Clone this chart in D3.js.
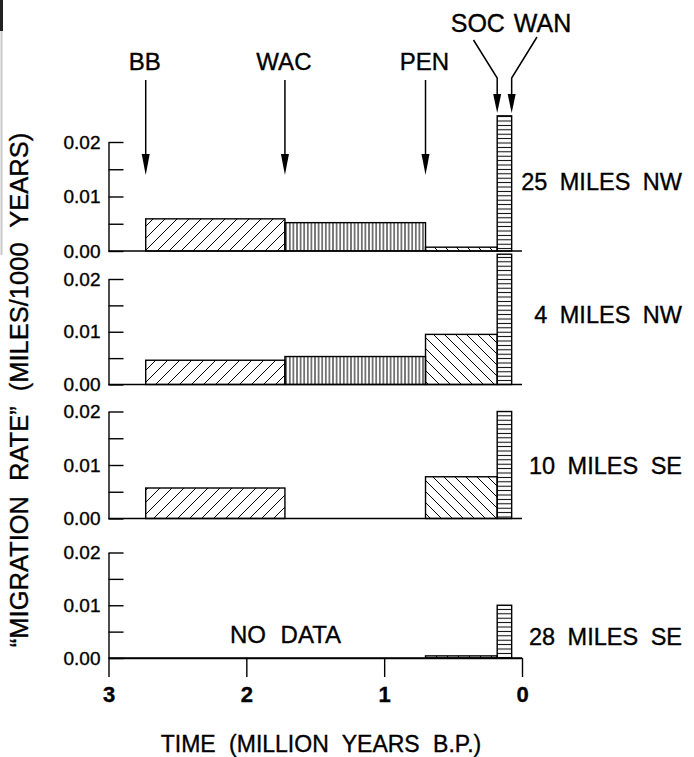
<!DOCTYPE html>
<html>
<head>
<meta charset="utf-8">
<script src="https://cdn.jsdelivr.net/npm/d3@7"></script>
<style>
  html, body { margin: 0; padding: 0; background: #fff; }
  svg { display: block; }
  text { font-family: "Liberation Sans", Arial, Helvetica, sans-serif; fill: #000; stroke: #000; stroke-width: 0.35px; }
</style>
</head>
<body>
<svg id="chart" width="694" height="757"></svg>
<script>
// Ages (million years B.P.) of the marker horizons bounding each interval
const markerNames = ["BB", "WAC", "PEN", "SOC", "WAN"];
const markerAges = [2.73, 1.72, 0.70, 0.18, 0.075];

// Sites, one panel each
const sites = ["25 MILES NW", "4 MILES NW", "10 MILES SE", "28 MILES SE"];

// Migration rate (miles / 1000 years) per interval: BB-WAC, WAC-PEN, PEN-SOC, SOC-WAN
const rate25NW = [0.0059, 0.0052, 0.0007, 0.0248];
const rate4NW  = [0.0046, 0.0053, 0.0095, 0.0247];
const rate10SE = [0.0057, null,   0.0078, 0.0200];
const rate28SE = [null,   null,   0.0004, 0.0100];
const siteRates = [rate25NW, rate4NW, rate10SE, rate28SE];

const timeTicks = [3, 2, 1, 0];
const rateTicks = [0, 0.005, 0.01, 0.015, 0.02];
const rateLabelTicks = [0, 0.01, 0.02];
const noDataLabel = "NO DATA";
const xTitle = "TIME (MILLION YEARS B.P.)";
const yTitle = "\u201CMIGRATION RATE\u201D (MILES/1000 YEARS)";

// Fill style per interval
const intervalHatch = ["hatch-fwd", "hatch-vert", "hatch-back", "hatch-horiz"];

const FONT = '"Liberation Sans", Arial, Helvetica, sans-serif';
const svg = d3.select("#chart");

// Layout of the four stacked panels (top = 0.02 level, base = 0.00 level)
const panelTop  = [142, 279, 411.5, 552.5];
const panelBase = [251, 384.5, 518.5, 658];
const labelBaseline = [190, 323, 474, 645];

const x = d3.scaleLinear().domain([3, 0]).range([108.5, 522]);

// Hatch patterns
const defs = svg.append("defs");
function pattern(id, w, h, d, sw) {
  defs.append("pattern")
    .attr("id", id)
    .attr("patternUnits", "userSpaceOnUse")
    .attr("width", w).attr("height", h)
    .append("path")
    .attr("d", d)
    .attr("stroke", "#000")
    .attr("stroke-width", sw)
    .attr("fill", "none");
}
pattern("hatch-fwd", 12, 12, "M0,12L12,0M-3,3L3,-3M9,15L15,9", 1);
pattern("hatch-back", 11, 11, "M0,0L11,11M-3,8L3,14M8,-3L14,3", 1);
pattern("hatch-vert", 3.6, 10, "M1.8,0V10", 1);
pattern("hatch-horiz", 10, 4.4, "M0,2.2H10", 1);

// Faint rule along the left edge
svg.append("line").attr("x1", 1.5).attr("x2", 1.5).attr("y1", 30).attr("y2", 255)
  .attr("stroke", "#c8c8c8").attr("stroke-width", 2);
svg.append("line").attr("x1", 1.5).attr("x2", 1.5).attr("y1", 0).attr("y2", 31)
  .attr("stroke", "#222").attr("stroke-width", 3);

const intervals = d3.range(markerAges.length - 1).map(i => ({
  i, from: markerAges[i], to: markerAges[i + 1]
}));

siteRates.forEach((rates, p) => {
  const y = d3.scaleLinear().domain([0, 0.02]).range([panelBase[p], panelTop[p]]);
  const g = svg.append("g");

  // Bars
  g.selectAll("rect.bar")
    .data(intervals.filter(d => rates[d.i] != null))
    .join("rect")
    .attr("class", "bar")
    .attr("x", d => x(d.from))
    .attr("width", d => x(d.to) - x(d.from))
    .attr("y", d => y(rates[d.i]))
    .attr("height", d => y(0) - y(rates[d.i]))
    .attr("fill", d => `url(#${intervalHatch[d.i]})`)
    .attr("stroke", "#000")
    .attr("stroke-width", 1.4);

  // Zero line
  g.append("line")
    .attr("x1", x(3)).attr("x2", x(0))
    .attr("y1", y(0)).attr("y2", y(0))
    .attr("stroke", "#000").attr("stroke-width", 1.4);

  // Rate axis, ticks pointing inward
  const ax = g.append("g")
    .attr("transform", `translate(${x(3)},0)`)
    .call(d3.axisLeft(y)
      .tickValues(rateTicks)
      .tickSizeInner(-15)
      .tickSizeOuter(0)
      .tickPadding(8)
      .tickFormat(v => rateLabelTicks.includes(v) ? d3.format(".2f")(v) : ""));
  ax.attr("font-family", FONT).attr("font-size", 19);
  ax.selectAll("path, line").attr("stroke", "#000").attr("stroke-width", 1.4);
  ax.selectAll("text").attr("fill", "#000");

  // Site label
  svg.append("text")
    .attr("x", 682).attr("y", labelBaseline[p])
    .attr("text-anchor", "end")
    .attr("font-size", 23.5)
    .attr("word-spacing", 6)
    .text(sites[p]);
});

// "No data" note in the lowest panel
svg.append("text")
  .attr("x", 285.5).attr("y", 643)
  .attr("text-anchor", "middle")
  .attr("font-size", 24)
  .attr("word-spacing", 8)
  .text(noDataLabel);

// Time axis under the lowest panel
const tx = svg.append("g")
  .attr("transform", `translate(0,${panelBase[3]})`)
  .call(d3.axisBottom(x).tickValues(timeTicks).tickSizeInner(19).tickSizeOuter(0)
    .tickPadding(9).tickFormat(d3.format("d")));
tx.attr("font-family", FONT).attr("font-size", 22).attr("font-weight", "bold");
tx.selectAll("path, line").attr("stroke", "#000").attr("stroke-width", 1.4);
tx.selectAll("text").attr("fill", "#000").attr("stroke-width", 0.2);

// Marker horizon arrows
const arrowTipY = 175;
[0, 1, 2].forEach(i => {
  const ax = x(markerAges[i]);
  svg.append("line")
    .attr("x1", ax).attr("x2", ax).attr("y1", 80).attr("y2", arrowTipY - 15)
    .attr("stroke", "#000").attr("stroke-width", 1.5);
  svg.append("path")
    .attr("d", `M${ax - 4},${arrowTipY - 21}L${ax + 4},${arrowTipY - 21}L${ax},${arrowTipY}Z`)
    .attr("fill", "#000");
  svg.append("text")
    .attr("x", ax - 1).attr("y", 70)
    .attr("text-anchor", "middle")
    .attr("font-size", 24)
    .text(markerNames[i]);
});

// SOC and WAN arrows converge onto the narrow youngest interval
const nearTipY = 113;
[[3, 473.5, 40], [4, 537, 37]].forEach(([i, sx, sy]) => {
  const ax = x(markerAges[i]);
  svg.append("path")
    .attr("d", `M${sx},${sy}L${ax},78V${nearTipY - 14}`)
    .attr("fill", "none").attr("stroke", "#000").attr("stroke-width", 1.5);
  svg.append("path")
    .attr("d", `M${ax - 4},${nearTipY - 19}L${ax + 4},${nearTipY - 19}L${ax},${nearTipY}Z`)
    .attr("fill", "#000");
});
svg.append("text")
  .attr("x", 511).attr("y", 32)
  .attr("text-anchor", "middle")
  .attr("font-size", 25)
  .attr("word-spacing", 2)
  .text(markerNames[3] + " " + markerNames[4]);

// Axis titles
svg.append("text")
  .attr("x", 321).attr("y", 752)
  .attr("text-anchor", "middle")
  .attr("font-size", 23)
  .attr("word-spacing", 7)
  .text(xTitle);

svg.append("text")
  .attr("transform", "translate(28,390) rotate(-90)")
  .attr("text-anchor", "middle")
  .attr("font-size", 25.5)
  .attr("word-spacing", 8)
  .text(yTitle);
</script>
</body>
</html>
